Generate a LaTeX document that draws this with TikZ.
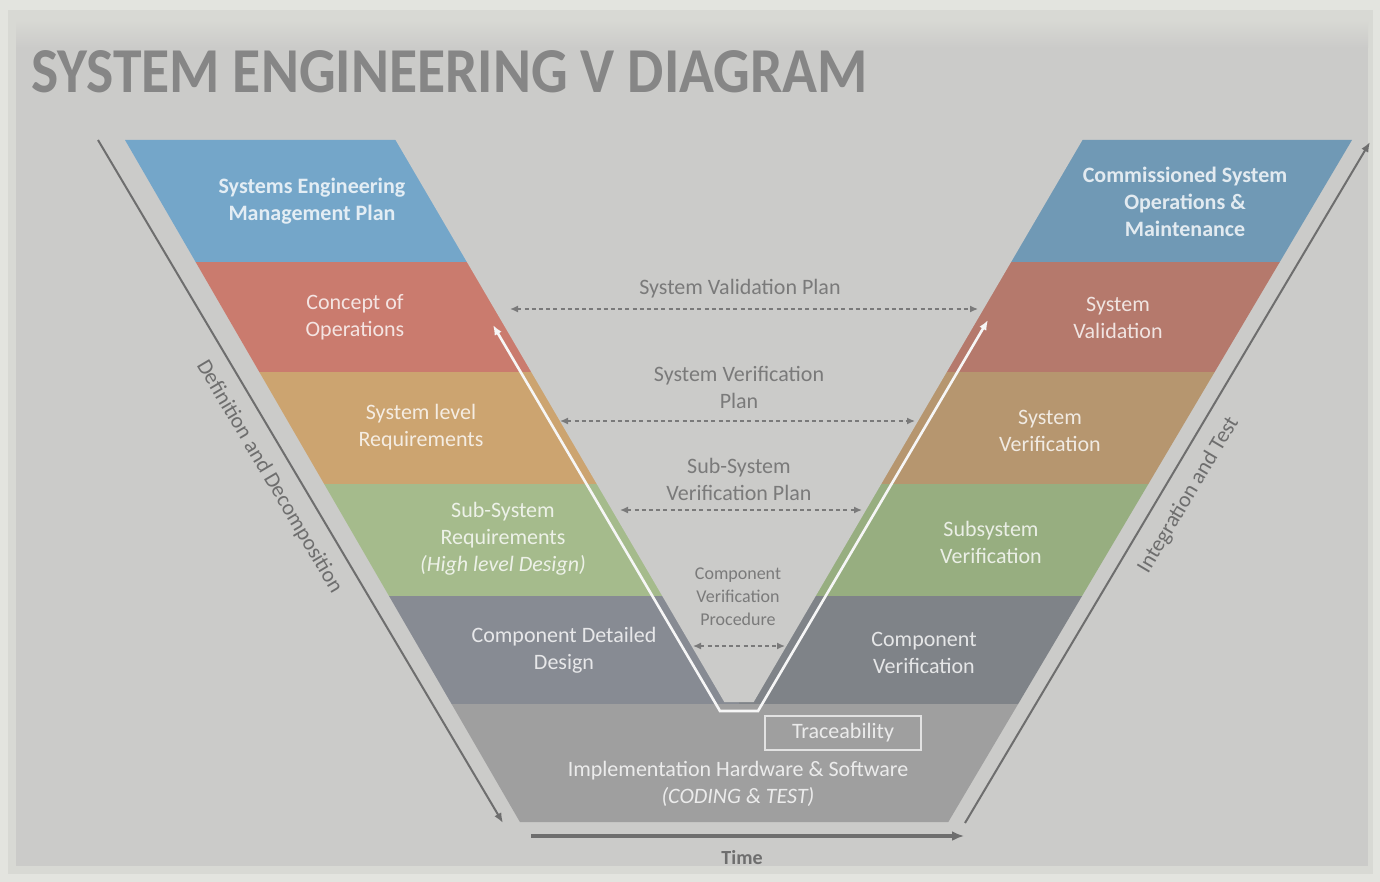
\documentclass[tikz,border=0pt]{standalone}
\usepackage{fontspec}
\setmainfont{Carlito}
\newfontfamily\condfont[FakeStretch=0.9]{Carlito}
\usetikzlibrary{arrows.meta}
\tikzset{>={Latex[width=2mm,length=2mm]}}

\definecolor{bg}{HTML}{CBCBC9}
\definecolor{framelight}{HTML}{E3E4DF}
\definecolor{framemid}{HTML}{D8D9D4}
\definecolor{bluel}{HTML}{74A6C9}
\definecolor{bluer}{HTML}{7099B5}
\definecolor{redl}{HTML}{CA7B6E}
\definecolor{redr}{HTML}{B5796C}
\definecolor{orangel}{HTML}{CCA470}
\definecolor{oranger}{HTML}{B6966F}
\definecolor{greenl}{HTML}{A5BB8C}
\definecolor{greenr}{HTML}{97AE80}
\definecolor{slatel}{HTML}{878B93}
\definecolor{slater}{HTML}{7F8388}
\definecolor{impl}{HTML}{9F9F9F}
\definecolor{ink}{HTML}{7A7A7A}
\definecolor{axisgray}{HTML}{6E6E6E}
\definecolor{titlegray}{HTML}{868686}

\tikzset{
  band/.style={align=center, text=white, text opacity=0.8, font=\fontsize{11}{13.5}\selectfont},
  plan/.style={align=center, text=ink, font=\fontsize{11}{13.5}\selectfont},
  planarrow/.style={ink, line width=0.7pt, dash pattern=on 2pt off 1.6pt, {Latex[length=4pt,width=3.5pt]}-{Latex[length=4pt,width=3.5pt]}},
  axis/.style={axisgray, line width=1pt, -{Latex[length=5pt,width=4pt]}},
  axislabel/.style={text=axisgray, font=\fontsize{11}{13}\selectfont, inner sep=0pt}
}

\begin{document}
\begin{tikzpicture}[x=0.5pt,y=-0.5pt]

  \useasboundingbox (0,0) rectangle (1380,882);

  % frame and background
  \fill[framelight] (0,0) rectangle (1380,882);
  \fill[framemid] (8,10) rectangle (1373,874);
  \fill[bg] (16,20) rectangle (1368,866);
  \shade[top color=framemid, bottom color=bg] (16,20) rectangle (1368,48);

  \node[anchor=west, text=titlegray, font=\condfont\fontsize{32}{36}\selectfont\bfseries] (ttl) at (24,72) {SYSTEM ENGINEERING V DIAGRAM};

  % the coloured layers, left half and right half
  \foreach \ya/\yb/\cl/\cr in {140/262/bluel/bluer, 262/372/redl/redr, 372/484/orangel/oranger,
                                484/596/greenl/greenr, 596/704/slatel/slater}{
    \fill[\cl] ({125+0.579*(\ya-140)},\ya) -- (739,\ya) -- (739,\yb) -- ({125+0.579*(\yb-140)},\yb) -- cycle;
    \fill[\cr] (739,\ya) -- ({1352-0.592*(\ya-140)},\ya) -- ({1352-0.592*(\yb-140)},\yb) -- (739,\yb) -- cycle;
  }
  \fill[impl] (451.6,704) -- (1018.1,704) -- (948.3,822) -- (519.9,822) -- cycle;

  % cut out the inside of the V
  \fill[bg] (395,139) -- (724.3,702) -- (753.7,702) -- (1083,139) -- cycle;

  \coordinate (wl) at (493,325);
  \coordinate (wbl) at (720,711);
  \coordinate (wbr) at (758,711);
  \coordinate (wr) at (988,320);
  \draw[white!93!gray, line width=1.3pt, {Latex[length=5pt,width=4pt]}-{Latex[length=5pt,width=4pt]}]
    (wl) -- (wbl) -- (wbr) -- (wr);

  % left side
  \node[band, font=\fontsize{11}{13.5}\selectfont\bfseries] (semp) at (312,201) {Systems Engineering\\Management Plan};
  \node[band] (conops) at (355,317) {Concept of\\Operations};
  \node[band] (sysreq) at (421,427) {System level\\Requirements};
  \node[band] (subreq) at (503,539) {Sub-System\\Requirements\\\textit{(High level Design)}};
  \node[band] (cdd) at (564,650) {Component Detailed\\Design};

  % right side
  \node[band, font=\fontsize{11}{13.5}\selectfont\bfseries] (csom) at (1185,202) {Commissioned System\\Operations \&\\Maintenance};
  \node[band] (sval) at (1118,318) {System\\Validation};
  \node[band] (sver) at (1050,431) {System\\Verification};
  \node[band] (ssver) at (991,542) {Subsystem\\Verification};
  \node[band] (cver) at (924,653) {Component\\Verification};

  % bottom
  \node[band, draw=white, draw opacity=0.7, line width=1pt, minimum width=78pt, minimum height=17pt] (trace) at (843,733) {Traceability};
  \node[band] (impl) at (738,784) {Implementation Hardware \& Software\\\textit{(CODING \& TEST)}};

  % plans between the two sides
  \coordinate (va0) at (510,309);
  \coordinate (va1) at (978,309);
  \coordinate (ve0) at (560,421);
  \coordinate (ve1) at (915,421);
  \coordinate (sv0) at (620,510);
  \coordinate (sv1) at (862,510);
  \coordinate (cv0) at (693,646);
  \coordinate (cv1) at (785,646);

  \node[plan] (svp) at (740,289) {System Validation Plan};
  \node[plan] (syvp) at (739,387) {System Verification\\Plan};
  \node[plan] (ssvp) at (739,479) {Sub-System\\Verification Plan};
  \node[plan, font=\fontsize{9}{11.5}\selectfont] (cvp) at (738,597) {Component\\Verification\\Procedure};

  \draw[planarrow] (va0) -- (va1);
  \draw[planarrow] (ve0) -- (ve1);
  \draw[planarrow] (sv0) -- (sv1);
  \draw[planarrow] (cv0) -- (cv1);

  % axes
  \coordinate (dtop) at (98,140);
  \coordinate (dbot) at (503,823);
  \coordinate (ibot) at (965,823);
  \coordinate (itop) at (1370,142);
  \coordinate (t0) at (531,836);
  \coordinate (t1) at (964,836);

  \draw[axis] (dtop) -- (dbot) node[pos=0.475, sloped, below=7pt, axislabel] (defl) {Definition and Decomposition};
  \draw[axis] (ibot) -- (itop) node[pos=0.5, sloped, below=7pt, axislabel] (intl) {Integration and Test};
  \draw[axis, line width=2pt, -{Latex[length=6pt,width=5pt]}] (t0) -- (t1);
  \node[axislabel, font=\fontsize{10}{12}\selectfont\bfseries] (time) at (742,858) {Time};

\end{tikzpicture}
\end{document}
